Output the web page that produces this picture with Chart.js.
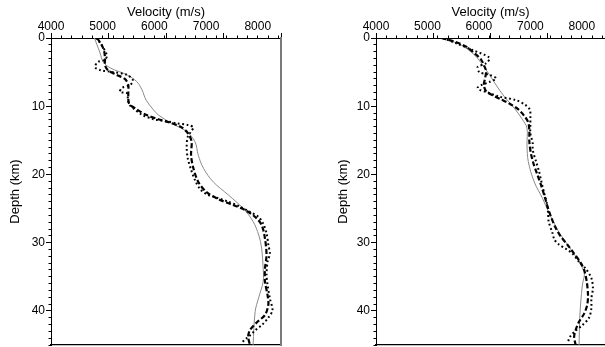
<!DOCTYPE html>
<html>
<head>
<meta charset="utf-8">
<script src="https://cdn.jsdelivr.net/npm/chart.js@4.4.1/dist/chart.umd.min.js"></script>
<style>
  body { margin: 0; background: #fff; }
  #wrap { position: relative; width: 605px; height: 347px; overflow: hidden; }
  canvas { position: absolute; top: 0; }
</style>
</head>
<body>
<div id="wrap">
  <canvas id="leftChart" width="300" height="347" style="left:0"></canvas>
  <canvas id="rightChart" width="305" height="347" style="left:300px"></canvas>
</div>
<script>
// velocity profiles, rows are [depth km, velocity m/s]
var leftModel = [[0,4840],[1,4890],[2.2,4950],[3.5,5010],[4.4,5150],[5.4,5470],[6.4,5660],[7.6,5760],[9.1,5840],[10.5,5980],[11.3,6080],[12.5,6330],[13.7,6620],[15.2,6785],[17.2,6850],[19.1,6950],[21.1,7140],[23,7430],[25,7720],[26.9,7910],[28.9,8020],[30.8,8075],[33.8,8105],[35.7,8105],[38,8020],[40.1,7950],[45,7910]];
var leftDashed = [[0,4890],[1,4980],[2,5030],[3,5045],[4,5045],[4.7,5100],[5.4,5270],[6,5430],[6.9,5495],[8.4,5495],[9.6,5510],[10.3,5625],[11.3,5850],[11.9,6075],[12.4,6300],[13.1,6530],[14,6655],[15.2,6720],[17.2,6710],[19.1,6755],[21.1,6850],[22.6,7010],[23.6,7235],[24.4,7495],[25.2,7750],[26.2,7945],[27.4,8075],[29.4,8140],[31.8,8170],[33.8,8140],[35.7,8140],[37.7,8190],[39.1,8205],[40.6,8140],[41.7,7980],[42.8,7850],[43.8,7815],[45,7850]];
var leftDotted = [[0,4870],[0.7,4950],[2.5,5080],[3.2,5045],[3.5,4910],[4.25,4850],[4.7,4950],[5,5200],[5.4,5470],[6.2,5585],[6.9,5530],[7.3,5375],[7.9,5335],[8.1,5470],[9.1,5490],[9.8,5520],[10.3,5590],[11.2,5750],[11.9,5980],[12.2,6240],[12.5,6430],[12.75,6655],[13.1,6755],[13.7,6710],[14.5,6645],[15.9,6625],[17.6,6645],[19.3,6710],[20.8,6785],[22.1,6880],[22.9,7010],[23.4,7205],[24,7430],[24.7,7655],[25.5,7850],[26.2,8010],[27.2,8105],[28.6,8170],[30.3,8205],[31.6,8235],[32.8,8190],[34.7,8170],[36.2,8190],[38.2,8235],[39.9,8285],[41,8205],[42.1,8075],[42.9,7945],[43.6,7850],[44.3,7740],[44.8,7675]];

var rightModel = [[0,5270],[0.5,5480],[1,5650],[2.5,5915],[4,6076],[5.4,6205],[6.9,6334],[8.6,6495],[10.3,6689],[12,6850],[13.2,6934],[15.7,6934],[18.1,6959],[21.1,7075],[23.5,7236],[26.2,7398],[28.9,7592],[31.3,7817],[34.3,8043],[36.2,8010],[38.7,7979],[41.1,7959],[45,7946]];
var rightDashed = [[0,5270],[0.54,5530],[1.27,5755],[2.25,5915],[3.2,6045],[4.2,6110],[4.9,6140],[5.9,6120],[6.9,6095],[7.8,6140],[8.4,6270],[9,6430],[9.6,6590],[10.4,6755],[11.4,6880],[12.4,6960],[13.7,6980],[15.2,6980],[16.9,7010],[18.4,7060],[19.8,7125],[21.5,7205],[23.3,7280],[25,7345],[26.4,7410],[27.9,7495],[29.1,7590],[30.3,7720],[31.6,7850],[32.8,7965],[34,8045],[35.7,8095],[37.7,8120],[39.1,8105],[40.4,8045],[41.6,7945],[42.8,7880],[43.8,7850],[45,7880]];
var rightDotted = [[0,5300],[0.78,5560],[1.76,5875],[2.9,6205],[3.7,6140],[4.25,5975],[5,6010],[5.4,6205],[5.9,6335],[6.45,6205],[6.9,6045],[7.3,5975],[7.6,6010],[7.9,6140],[8.6,6400],[9.1,6720],[9.8,6900],[10.5,6990],[11.5,7000],[12.5,7000],[14,7000],[15.4,7045],[16.4,7045],[18.1,7110],[19.6,7170],[21.1,7215],[22.8,7270],[24.2,7320],[25.7,7345],[26.9,7355],[28.6,7430],[29.6,7470],[30.3,7560],[30.9,7690],[31.6,7815],[32.8,7945],[33.8,8075],[35.2,8185],[36.7,8215],[38.2,8185],[39.6,8185],[41,8140],[42.1,8010],[42.9,7880],[43.8,7770],[44.8,7720]];

var velocityMin = 4000, velocityMax = 8450;
var depthMin = 0, depthMax = 45;
var xTitle = 'Velocity (m/s)';
var yTitle = 'Depth (km)';

var FONT = "'Liberation Sans', Arial, Helvetica, sans-serif";

function toPoints(rows) {
  return rows.map(function (r) { return { x: r[1], y: r[0] }; });
}

// zero size axis that only draws the longer major tick marks
function majorTicks(position, min, max, step) {
  return {
    type: 'linear', position: position, display: true, weight: -1, min: min, max: max,
    reverse: position === 'left',
    afterFit: function (s) { s.width = 0; s.height = 0; s.paddingTop = 0; s.paddingBottom = 0; s.paddingLeft = 0; s.paddingRight = 0; },
    grid: { drawOnChartArea: false, tickLength: 5, tickColor: '#000' },
    border: { display: false },
    ticks: { stepSize: step, autoSkip: false, includeBounds: false, font: { size: 1 }, callback: function () { return ''; } }
  };
}

function makeChart(id, model, dashed, dotted, axisWidth, yTitlePad, padRight, showRightEdge) {
  var ctx = document.getElementById(id).getContext('2d');
  return new Chart(ctx, {
    type: 'scatter',
    data: {
      datasets: [
        { data: toPoints(dotted), showLine: true, borderColor: '#000', borderWidth: 2,
          borderDash: [1.8, 2.6], pointRadius: 0, tension: 0.3 },
        { data: toPoints(dashed), showLine: true, borderColor: '#000', borderWidth: 2.2,
          borderDash: [5, 2.5], pointRadius: 0, tension: 0.3 },
        { data: toPoints(model), showLine: true, borderColor: '#8a8a8a', borderWidth: 1,
          pointRadius: 0, tension: 0.35 }
      ]
    },
    options: {
      responsive: false,
      animation: false,
      events: [],
      layout: { autoPadding: false, padding: { left: 0, top: 0, right: padRight, bottom: 2 } },
      plugins: { legend: { display: false }, tooltip: { enabled: false } },
      scales: {
        x: {
          type: 'linear', position: 'top', min: velocityMin, max: velocityMax,
          afterFit: function (s) { s.height = 38; s.paddingLeft = 0; s.paddingRight = 0; },
          grid: { drawOnChartArea: false, tickLength: 2.5, tickColor: '#000' },
          border: { color: '#000', width: 1 },
          ticks: {
            stepSize: 200, autoSkip: false, maxRotation: 0, includeBounds: false, padding: 2,
            color: '#000', font: { family: FONT, size: 12 },
            callback: function (v) { return v % 1000 === 0 ? String(v) : ''; }
          },
          title: { display: true, text: xTitle, color: '#000',
                   font: { family: FONT, size: 13 }, padding: { top: 5, bottom: 0 } }
        },
        xMajor: majorTicks('top', velocityMin, velocityMax, 1000),
        y: {
          type: 'linear', position: 'left', reverse: true, min: depthMin, max: depthMax,
          afterFit: function (s) { s.width = axisWidth; s.paddingTop = 0; s.paddingBottom = 0; },
          grid: { drawOnChartArea: false, tickLength: 2.5, tickColor: '#000' },
          border: { color: '#000', width: 1 },
          ticks: {
            stepSize: 1, autoSkip: false, padding: 3.5, color: '#000',
            font: { family: FONT, size: 12 },
            callback: function (v) { return v % 10 === 0 ? String(v) : ''; }
          },
          title: { display: true, text: yTitle, color: '#000',
                   font: { family: FONT, size: 13 }, padding: { top: yTitlePad, bottom: 0 } }
        },
        yMajor: majorTicks('left', depthMin, depthMax, 10),
        xBottom: {
          type: 'linear', position: 'bottom', min: velocityMin, max: velocityMax,
          afterFit: function (s) { s.height = 0; },
          grid: { drawOnChartArea: false, drawTicks: false },
          border: { color: '#000', width: 1.2 },
          ticks: { display: false }
        },
        yRight: {
          type: 'linear', position: 'right', display: showRightEdge, min: depthMin, max: depthMax,
          afterFit: function (s) { s.width = 0; },
          grid: { drawOnChartArea: false, drawTicks: false },
          border: { color: '#7a7a7a', width: 2 },
          ticks: { display: false }
        }
      }
    }
  });
}

var leftChart = makeChart('leftChart', leftModel, leftDashed, leftDotted, 51, 8, 19, true);
var rightChart = makeChart('rightChart', rightModel, rightDashed, rightDotted, 76, 36, 0, false);
</script>
</body>
</html>
